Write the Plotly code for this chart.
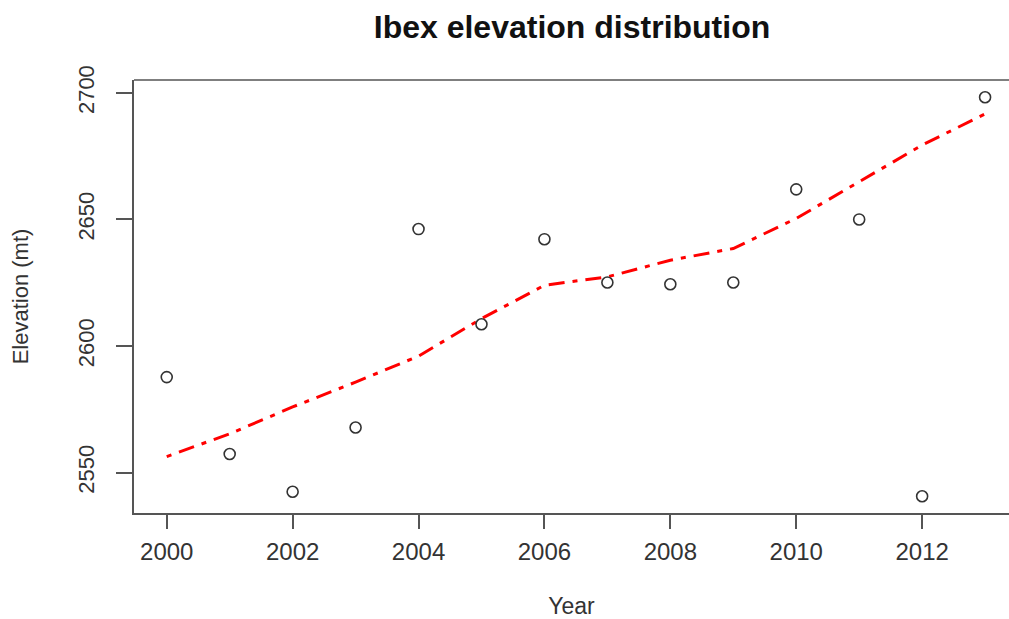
import plotly.graph_objects as go

years = [2000, 2001, 2002, 2003, 2004, 2005, 2006, 2007, 2008, 2009, 2010, 2011, 2012, 2013]
elevation = [2587.7, 2557.3, 2542.4, 2567.8, 2646.2, 2608.6, 2642.2, 2625.1, 2624.4, 2625.1, 2661.9, 2650.0, 2540.6, 2698.3]
loess_fit = [2556.3, 2565.3, 2575.9, 2585.7, 2596.0, 2610.8, 2624.0, 2627.3, 2633.9, 2638.5, 2650.4, 2664.9, 2679.4, 2691.7]
x_ticks = [2000, 2002, 2004, 2006, 2008, 2010, 2012]
y_ticks = [2550, 2600, 2650, 2700]

FONT = "Liberation Sans, Arial, sans-serif"
AXC = "#555555"

fig = go.Figure()
fig.add_trace(go.Scatter(
    x=years, y=loess_fit, mode="lines",
    line=dict(color="#ff0000", width=3, dash="5px,8px,16px,8px"),
    showlegend=False, hoverinfo="skip"))
fig.add_trace(go.Scatter(
    x=years, y=elevation, mode="markers",
    marker=dict(symbol="circle-open", size=11, color="#333333", line=dict(width=1.6, color="#333333")),
    showlegend=False))

fig.update_layout(
    width=1009, height=619,
    margin=dict(l=134, r=0, t=80, b=106),
    paper_bgcolor="white", plot_bgcolor="white",
    font=dict(family=FONT, color="#333333"),
    title=dict(text="<b>Ibex elevation distribution</b>", x=572/1009, xref="container", xanchor="center",
               y=1-27/619, yref="container", yanchor="middle",
               font=dict(size=32, color="#111111", family=FONT)),
    xaxis=dict(range=[1999.48, 2013.38], tickvals=x_ticks, ticktext=[str(v) for v in x_ticks],
               showgrid=False, zeroline=False, showline=True, linecolor=AXC, linewidth=1.5,
               ticks="outside", ticklen=14, tickwidth=1.5, tickcolor=AXC,
               ticklabelstandoff=2,
               tickfont=dict(size=24, color="#333333"),
               title=dict(text="Year", font=dict(size=23, color="#333333"), standoff=36)),
    yaxis=dict(range=[2534.0, 2705.1], tickvals=y_ticks, ticktext=[str(v) for v in y_ticks],
               showgrid=False, zeroline=False, showline=True, linecolor=AXC, linewidth=1.5,
               ticks="outside", ticklen=16, tickwidth=1.5, tickcolor=AXC, tickangle=-90,
               ticklabelstandoff=13,
               tickfont=dict(size=22, color="#333333"),
               title=dict(text="Elevation (mt)", font=dict(size=22, color="#333333"), standoff=40)),
)
fig.add_shape(type="line", xref="paper", yref="paper", x0=0, x1=1, y0=1, y1=1,
              line=dict(color=AXC, width=1.5))

fig.write_html("out.html")
